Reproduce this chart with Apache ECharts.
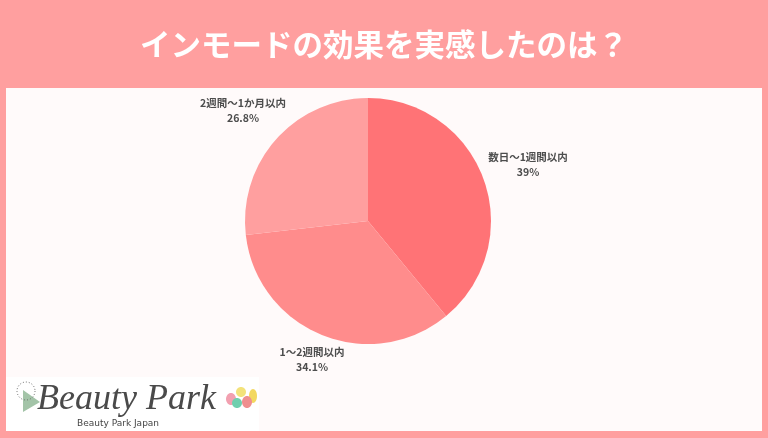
<!DOCTYPE html>
<html><head><meta charset="utf-8">
<style>html,body{margin:0;padding:0;background:#ff9f9f}#c{width:768px;height:438px}</style>
<script src="https://cdn.jsdelivr.net/npm/echarts@6/dist/echarts.min.js"></script>
</head><body><div id="c"></div>
<script>
const titleText = 'インモードの効果を実感したのは？';
const categories = ['数日〜1週間以内', '1〜2週間以内', '2週間〜1か月以内'];
const values = [39, 34.1, 26.8];
const colors = ['#ff7376', '#ff8c8c', '#ff9f9f'];
const logoText = 'Beauty Park';
const logoSub = 'Beauty Park Japan';
const jp = '"Noto Sans CJK JP","Noto Sans",sans-serif';
const chart = echarts.init(document.getElementById('c'), null, {renderer:'canvas'});
const eggs = [['#f2a0b0',231,399,5,6],['#f3e27a',241,392,5,5],['#f3d860',253,396,4,7],['#6fcfae',237,403,5,5],['#ef8f8f',247,402,5,6]];
chart.setOption({
  animation:false,
  backgroundColor:'#ff9f9f',
  title:{text:titleText,left:'center',top:24,textStyle:{color:'#fff',fontFamily:jp,fontSize:30.5,fontWeight:700}},
  graphic:[
    {type:'rect',z:-2,silent:true,shape:{x:6,y:88,width:756,height:343},style:{fill:'#fffafa'}},
    {type:'rect',z:-1,silent:true,shape:{x:6,y:377,width:253,height:54},style:{fill:'#ffffff'}},
    {type:'polygon',silent:true,shape:{points:[[23,390],[40,402],[23,412]]},style:{fill:'#a3c4a8'}},
    {type:'circle',silent:true,shape:{cx:26,cy:391,r:9},style:{fill:'none',stroke:'#666',lineWidth:1,lineDash:[1,2]}},
    {type:'text',silent:true,style:{x:37,y:382,text:logoText,fill:'#4a4a4a',font:'italic 36px "Liberation Serif",serif'}},
    {type:'text',silent:true,style:{x:77,y:419,text:logoSub,fill:'#444',font:'9px "DejaVu Sans",sans-serif'}},
    ...eggs.map(e=>({type:'ellipse',silent:true,shape:{cx:e[1],cy:e[2],rx:e[3],ry:e[4]},style:{fill:e[0]}}))
  ],
  series:[{
    type:'pie',center:[368,221],radius:[0,123],startAngle:90,clockwise:true,
    data:categories.map((n,i)=>({name:n,value:values[i],itemStyle:{color:colors[i]}})),
    label:{show:true,position:'outside',formatter:p=>p.name+'\n'+p.value+'%',color:'#4d4d4d',fontFamily:jp,fontSize:10.5,fontWeight:700,lineHeight:15,align:'center'},
    labelLine:{show:false},
    labelLayout:p=>{
      const t={'数日〜1週間以内':[528,165],'1〜2週間以内':[312,360],'2週間〜1か月以内':[243,111]}[categories[p.dataIndex]];
      return {x:t[0],y:t[1],align:'center',verticalAlign:'middle'};
    },
    emphasis:{disabled:true}
  }]
});
</script></body></html>
